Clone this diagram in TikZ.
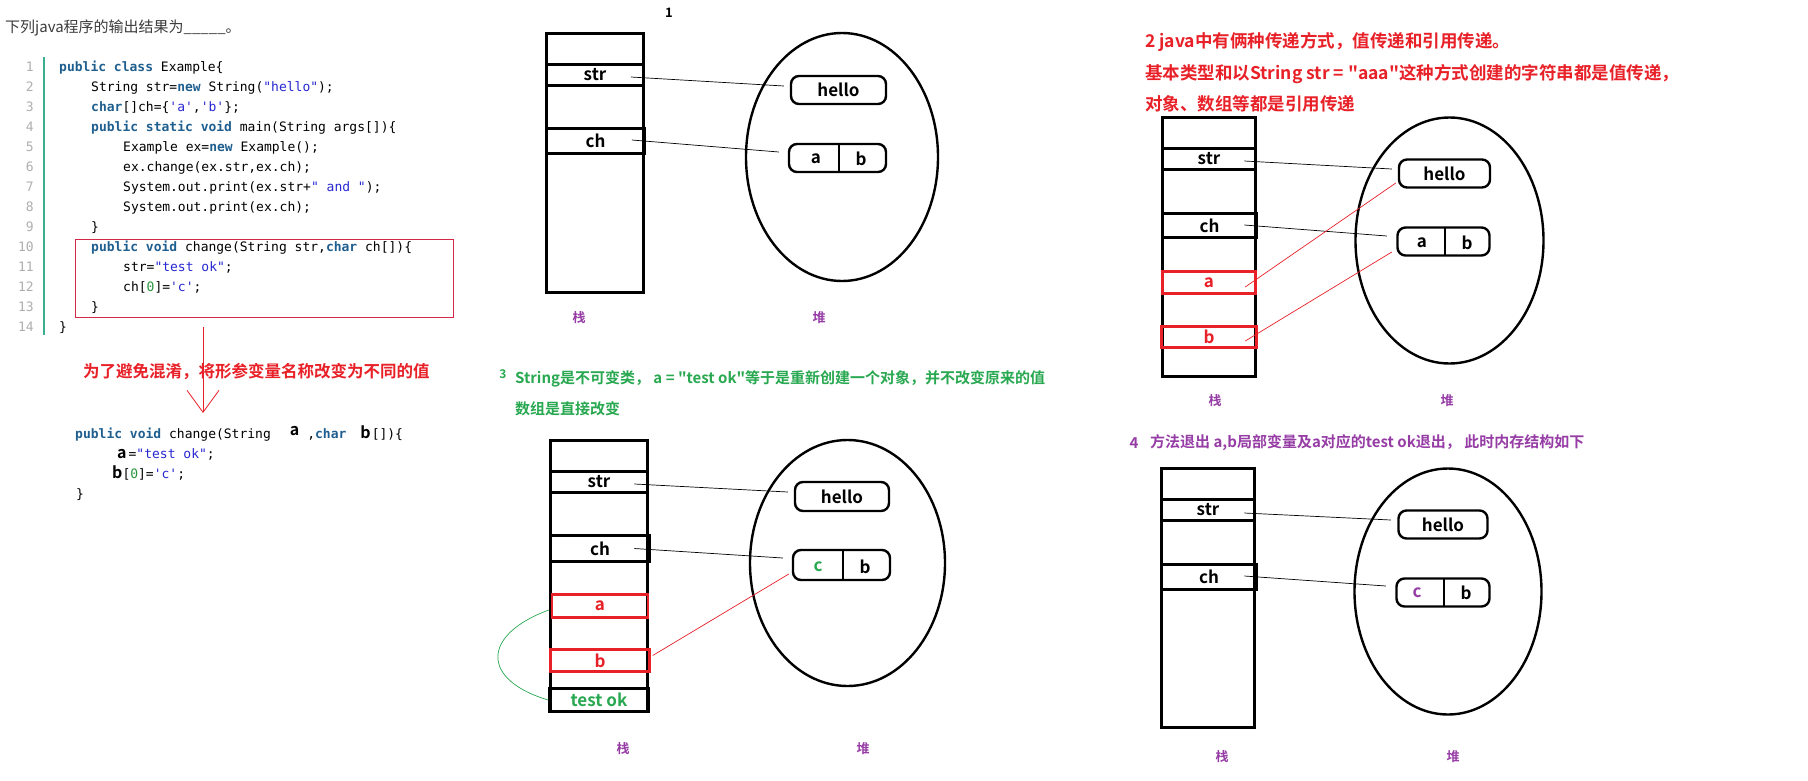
\documentclass[tikz,border=0pt]{standalone}
\usepackage{fontspec}
\setmainfont{Noto Sans CJK SC}[BoldFont={Noto Sans CJK SC Bold}]
\newfontfamily\codefont{DejaVu Sans Mono}
\usetikzlibrary{shapes.geometric,arrows.meta,calc}
\definecolor{kwc}{RGB}{31,95,143}
\definecolor{strc}{RGB}{40,40,210}
\definecolor{numc}{RGB}{40,150,60}
\definecolor{lnc}{RGB}{175,175,175}
\definecolor{barc}{RGB}{60,176,140}
\definecolor{redc}{RGB}{232,32,40}
\definecolor{boxred}{RGB}{214,40,70}
\definecolor{grnc}{RGB}{40,168,80}
\definecolor{purc}{RGB}{150,60,165}
\definecolor{titc}{RGB}{60,60,60}
\newcommand\kw[1]{{\bfseries\color{kwc}#1}}
\newcommand\st[1]{{\color{strc}#1}}
\newcommand\nm[1]{{\color{numc}#1}}
\newcommand\q{\textquotedbl}
\newcommand\sq{\textquotesingle}
\newcommand\bl[1]{{\rmfamily\bfseries\fontsize{16}{18}\selectfont #1}}
\begin{document}
\begin{tikzpicture}[x=1pt,y=-1pt,
 code/.style={anchor=base west, inner sep=0pt, font=\codefont\fontsize{13}{15}\selectfont},
 lnum/.style={anchor=base east, inner sep=0pt, text=lnc, font=\codefont\fontsize{13}{15}\selectfont},
 slot/.style={draw, line width=2.6pt, inner sep=0pt, font=\bfseries\fontsize{17}{19}\selectfont},
 redslot/.style={slot, draw=redc, text=redc, line width=2.4pt},
 stackbox/.style={draw, line width=2.8pt, inner sep=0pt},
 heap/.style={ellipse, draw, line width=2.4pt, inner sep=0pt},
 obj/.style={draw, line width=2.4pt, rounded corners=8pt, inner sep=0pt, font=\bfseries\fontsize{17}{19}\selectfont},
 celltxt/.style={inner sep=0pt, font=\bfseries\fontsize{17}{19}\selectfont},
 divider/.style={line width=2.4pt},
 ref/.style={line width=0.7pt},
 redref/.style={line width=0.7pt, draw=redc},
 lab/.style={inner sep=0pt, text=purc, font=\bfseries\fontsize{13}{15}\selectfont},
 note/.style={anchor=west, inner sep=0pt, font=\bfseries\fontsize{15}{17}\selectfont},
 bignote/.style={anchor=west, inner sep=0pt, font=\bfseries\fontsize{17.5}{19}\selectfont},
]
\useasboundingbox[fill=white] (0,0) rectangle (1808,780);

% ---------- left: code ----------
\node[anchor=base west, inner sep=0, text=titc, font=\fontsize{15}{17}\selectfont] (title) at (5,32) {下列java程序的输出结果为\_\_\_\_\_。};
\draw[barc, line width=2.5pt] (44,57) -- (44,335);
\foreach \i in {1,...,14} \node[lnum] (ln\i) at (34,{71+20*(\i-1)}) {\i};
\node[code] (c1) at (59,71) {\kw{public class} Example\{};
\node[code] (c2) at (91,91) {String str=\kw{new} String(\st{\q hello\q});};
\node[code] (c3) at (91,111) {\kw{char}[]ch=\{\st{\sq a\sq},\st{\sq b\sq}\};};
\node[code] (c4) at (91,131) {\kw{public static void} main(String args[])\{};
\node[code] (c5) at (123,151) {Example ex=\kw{new} Example();};
\node[code] (c6) at (123,171) {ex.change(ex.str,ex.ch);};
\node[code] (c7) at (123,191) {System.out.print(ex.str+\st{\q{} and \q});};
\node[code] (c8) at (123,211) {System.out.print(ex.ch);};
\node[code] (c9) at (91,231) {\}};
\node[code] (c10) at (91,251) {\kw{public void} change(String str,\kw{char} ch[])\{};
\node[code] (c11) at (123,271) {str=\st{\q test ok\q};};
\node[code] (c12) at (123,291) {ch[\nm{0}]=\st{\sq c\sq};};
\node[code] (c13) at (91,311) {\}};
\node[code] (c14) at (59,331) {\}};
\node[draw=boxred, line width=1pt, minimum width=378pt, minimum height=78pt, anchor=north west, inner sep=0] (redbox) at (75,239) {};
\coordinate (arS) at (203,327);
\coordinate (arE) at (203,413);
\draw[redc, line width=0.8pt, -{Straight Barb[length=22pt,width=32pt]}] (arS) -- (arE);
\node[note, text=redc, font=\bfseries\fontsize{16.5}{18}\selectfont] (rename) at (83,372) {为了避免混淆，将形参变量名称改变为不同的值};
\node[code] (m1) at (75,438) {\kw{public void} change(String\hspace{19pt}\raisebox{3pt}{\bl{a}}\hspace{8pt},\kw{char}\hspace{14pt}\bl{b}\hspace{1pt}[])\{};
\node[code] (m2) at (117,458) {\bl{a}\hspace{2pt}=\st{\q test ok\q};};
\node[code] (m3) at (112,478) {\bl{b}[\nm{0}]=\st{\sq c\sq};};
\node[code] (m4) at (76,498) {\}};

% ---------- panel 1 ----------
\node[inner sep=0, font=\bfseries\fontsize{13}{15}\selectfont] (n1) at (669,13) {1};
\node[stackbox, minimum width=97pt, minimum height=259pt] (stk1) at (595,163) {};
\node[slot, minimum width=97pt, minimum height=21pt] (s1) at (595,75) {str};
\node[slot, minimum width=98pt, minimum height=25pt] (ch1) at (595.5,141) {ch};
\node[heap, minimum width=192pt, minimum height=248pt] (e1) at (842,157) {};
\node[obj, minimum width=95pt, minimum height=28pt] (h1) at (838.5,90) {hello};
\node[obj, minimum width=97pt, minimum height=28pt] (ab1) at (837.5,158) {};
\draw[divider] (839,144) -- (839,173);
\node[celltxt] (ab1a) at (816,159) {a};
\node[celltxt] (ab1b) at (861,159) {b};
\draw[ref] ([xshift=-14pt,yshift=-2pt]s1.east) -- ([xshift=-6pt,yshift=4pt]h1.west);
\draw[ref] ([xshift=-14pt,yshift=1pt]ch1.east) -- ([xshift=-9pt,yshift=6pt]ab1.west);
\node[lab] (zh1) at (579,318) {栈};
\node[lab] (du1) at (819,318) {堆};

% ---------- panel 3 ----------
\node[inner sep=0, text=grnc, font=\bfseries\fontsize{12}{14}\selectfont] (n3) at (503,374) {3};
\node[note, text=grnc] (t3a) at (515,379) {String是不可变类， a = \q test ok\q 等于是重新创建一个对象，并不改变原来的值};
\node[note, text=grnc] (t3b) at (515,409) {数组是直接改变};
\node[stackbox, minimum width=97pt, minimum height=271pt] (stk3) at (599,576) {};
\node[slot, minimum width=97pt, minimum height=21pt] (s3) at (599,482) {str};
\node[slot, minimum width=99pt, minimum height=26pt] (ch3) at (600,548.5) {ch};
\node[redslot, minimum width=96pt, minimum height=23pt] (a3) at (600,606) {a};
\node[redslot, minimum width=99pt, minimum height=22pt] (b3) at (600,660.5) {b};
\node[slot, minimum width=99pt, minimum height=23pt, text=grnc] (t3) at (599,700) {test\hspace{4pt}ok};
\node[heap, minimum width=195pt, minimum height=246pt] (e3) at (847.5,563) {};
\node[obj, minimum width=94pt, minimum height=29pt] (h3) at (842,496.5) {hello};
\node[obj, minimum width=97pt, minimum height=30pt] (cb3) at (841.5,565) {};
\draw[divider] (843,550) -- (843,580);
\node[celltxt, text=grnc] (cb3c) at (818,567) {c};
\node[celltxt] (cb3b) at (865,567) {b};
\draw[ref] ([xshift=-14.5pt,yshift=-2pt]s3.east) -- ([xshift=-6pt,yshift=4.5pt]h3.west);
\draw[ref] ([xshift=-16.5pt]ch3.east) -- ([xshift=-9pt,yshift=7pt]cb3.west);
\draw[redref] ([xshift=2pt,yshift=5pt]b3.east) -- ([xshift=-3pt,yshift=-9pt]cb3.west);
\draw[grnc, line width=0.7pt] ([xshift=-2pt,yshift=-4pt]a3.west) .. controls (481,635) and (481,680) .. (t3.west);
\node[lab] (zh3) at (623,749) {栈};
\node[lab] (du3) at (863,749) {堆};

% ---------- panel 2 ----------
\node[bignote, text=redc] (t2a) at (1145,42) {2 java中有俩种传递方式，值传递和引用传递。};
\node[bignote, text=redc] (t2b) at (1145,74) {基本类型和以String str = \q aaa\q 这种方式创建的字符串都是值传递，};
\node[bignote, text=redc] (t2c) at (1145,104) {对象、数组等都是引用传递};
\node[stackbox, minimum width=93pt, minimum height=259pt] (stk2) at (1209,247) {};
\node[slot, minimum width=93pt, minimum height=21pt] (s2) at (1209,159) {str};
\node[slot, minimum width=94pt, minimum height=24pt] (ch2) at (1209.5,225.5) {ch};
\node[redslot, minimum width=93pt, minimum height=22pt] (a2) at (1209,282.5) {a};
\node[redslot, minimum width=95pt, minimum height=21pt] (b2) at (1209,337) {b};
\node[heap, minimum width=188pt, minimum height=246pt] (e2) at (1449.5,240.5) {};
\node[obj, minimum width=91pt, minimum height=28pt] (h2) at (1444.5,173.5) {hello};
\node[obj, minimum width=92pt, minimum height=28pt] (ab2) at (1443.5,241.5) {};
\draw[divider] (1445,227) -- (1445,256);
\node[celltxt] (ab2a) at (1422,243) {a};
\node[celltxt] (ab2b) at (1467,243) {b};
\draw[ref] ([xshift=-12.5pt,yshift=-2pt]s2.east) -- ([xshift=-6pt,yshift=4.5pt]h2.west);
\draw[ref] ([xshift=-13.5pt,yshift=0.5pt]ch2.east) -- ([xshift=-9.5pt,yshift=5.5pt]ab2.west);
\draw[redref] ([xshift=-11.5pt,yshift=-4.5pt]a2.east) -- ([xshift=-2pt,yshift=-9.5pt]h2.west);
\draw[redref] ([xshift=-12.5pt,yshift=-4pt]b2.east) -- ([xshift=-4.5pt,yshift=-10.5pt]ab2.west);
\node[lab] (zh2) at (1215,401) {栈};
\node[lab] (du2) at (1447,401) {堆};

% ---------- panel 4 ----------
\node[inner sep=0, text=purc, font=\bfseries\fontsize{15}{17}\selectfont] (n4) at (1134,443) {4};
\node[note, text=purc] (t4) at (1150,443) {方法退出 a,b局部变量及a对应的test ok退出， 此时内存结构如下};
\node[stackbox, minimum width=93pt, minimum height=259pt] (stk4) at (1208,598) {};
\node[slot, minimum width=93pt, minimum height=21pt] (s4) at (1208,510) {str};
\node[slot, minimum width=95pt, minimum height=25pt] (ch4) at (1209,577) {ch};
\node[heap, minimum width=187pt, minimum height=246pt] (e4) at (1448,591.5) {};
\node[obj, minimum width=89pt, minimum height=28pt] (h4) at (1443,524.5) {hello};
\node[obj, minimum width=93pt, minimum height=28pt] (cb4) at (1443,592.5) {};
\draw[divider] (1444,578) -- (1444,607);
\node[celltxt, text=purc] (cb4c) at (1417,593) {c};
\node[celltxt] (cb4b) at (1466,593) {b};
\draw[ref] ([xshift=-11.5pt,yshift=-3pt]s4.east) -- ([xshift=-6.5pt,yshift=4.5pt]h4.west);
\draw[ref] ([xshift=-13.5pt,yshift=1pt]ch4.east) -- ([xshift=-9.5pt,yshift=6.5pt]cb4.west);
\node[lab] (zh4) at (1222,757) {栈};
\node[lab] (du4) at (1453,757) {堆};
\end{tikzpicture}
\end{document}
